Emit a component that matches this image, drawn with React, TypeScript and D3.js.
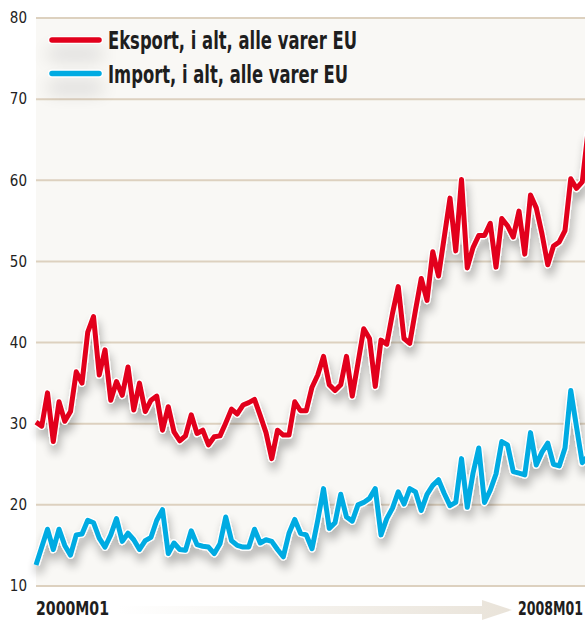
import * as React from 'react';
import * as d3 from 'd3';

// månedlige værdier 2000M01 .. 2008M01
const exportValues = [
  30.2, 29.7, 33.8, 27.8, 32.7, 30.3, 31.5, 36.4, 35.0, 41.3, 43.2, 36.0,
  39.1, 32.9, 35.2, 33.5, 37.0, 31.7, 35.0, 31.5, 32.9, 33.4, 29.2, 32.1,
  29.0, 27.9, 28.5, 31.1, 28.8, 29.2, 27.4, 28.4, 28.5, 30.1, 31.8, 31.2,
  32.3, 32.6, 33.0, 31.0, 28.9, 25.7, 29.2, 28.6, 28.6, 32.7, 31.6, 31.6,
  34.5, 36.0, 38.3, 34.8, 34.1, 34.8, 38.3, 33.4, 37.5, 41.7, 40.5, 34.6,
  40.3, 39.8, 43.6, 46.9, 40.5, 39.9, 44.0, 47.9, 45.2, 51.2, 48.2, 53.0,
  57.8, 51.3, 60.1, 49.2, 51.7, 53.2, 53.2, 54.7, 49.3, 55.3, 54.4, 53.0,
  56.2, 50.9, 58.2, 56.6, 53.4, 49.6, 51.9, 52.4, 53.8, 60.2, 59.0, 59.8,
  66.0
];
const importValues = [
  12.6, 14.8, 17.0, 14.5, 17.0, 15.0, 13.8, 16.3, 16.4, 18.1, 17.8, 15.9,
  14.8, 16.3, 18.3, 15.5, 16.5, 15.7, 14.5, 15.6, 16.0, 18.1, 19.4, 14.0,
  15.3, 14.5, 14.4, 16.8, 15.1, 14.9, 14.8, 14.0, 15.2, 18.5, 15.6, 15.0,
  14.8, 14.8, 17.0, 15.3, 15.7, 15.5, 14.5, 13.6, 16.5, 18.2, 16.5, 16.3,
  14.6, 18.1, 22.0, 17.1, 17.8, 21.3, 18.5, 18.0, 20.0, 20.3, 20.8, 22.0,
  16.3, 18.3, 19.6, 21.6, 20.1, 22.0, 21.6, 19.3, 21.3, 22.4, 23.1, 21.4,
  19.9, 20.3, 25.7, 19.7, 23.9, 27.0, 20.3, 21.8, 23.8, 27.8, 27.4, 24.1,
  23.9, 23.7, 28.9, 24.9, 26.5, 27.6, 25.0, 24.8, 27.0, 34.1, 29.6, 25.2,
  26.0
];
const yTicks = [10, 20, 30, 40, 50, 60, 70, 80];
const xLabels = ['2000M01', '2008M01'];
const seriesNames = ['Eksport, i alt, alle varer EU', 'Import, i alt, alle varer EU'];
const seriesColors = ['#e2001a', '#00abe2'];

const FONT = "'Liberation Sans Narrow', 'DejaVu Sans Condensed', 'Arial Narrow', sans-serif";

const App = () => {
  const W = 585;
  const H = 620;

  const x = d3.scaleLinear().domain([0, exportValues.length - 1]).range([36, 588]);
  const y = d3.scaleLinear().domain([10, 80]).range([586, 18]);

  const line = d3
    .line<number>()
    .x((d, i) => x(i))
    .y(d => y(d))
    .curve(d3.curveLinear);

  const series = [exportValues, importValues];
  const legendY = (i: number) => 40 + i * 33.5;

  return (
    <svg
      width={W}
      height={H}
      style={{ position: 'absolute', left: 0, top: 0, background: '#fff' }}
    >
      <defs>
        <filter id="shadow" filterUnits="userSpaceOnUse" x={0} y={0} width={W} height={H}>
          <feGaussianBlur in="SourceAlpha" stdDeviation="5" />
          <feOffset dx="2" dy="8" result="b" />
          <feComponentTransfer>
            <feFuncA type="linear" slope="0.3" />
          </feComponentTransfer>
          <feMerge>
            <feMergeNode />
            <feMergeNode in="SourceGraphic" />
          </feMerge>
        </filter>
        <filter id="legendShadow" filterUnits="userSpaceOnUse" x={0} y={0} width={200} height={140}>
          <feGaussianBlur in="SourceAlpha" stdDeviation="9" />
          <feOffset dx="0" dy="14" />
          <feComponentTransfer>
            <feFuncA type="linear" slope="0.2" />
          </feComponentTransfer>
          <feMerge>
            <feMergeNode />
            <feMergeNode in="SourceGraphic" />
          </feMerge>
        </filter>
        <linearGradient id="arrowGrad" x1="0" x2="1" y1="0" y2="0">
          <stop offset="0" stopColor="#ffffff" />
          <stop offset="1" stopColor="#e9e3d9" />
        </linearGradient>
      </defs>

      {/* plot background */}
      <rect x={x(0)} y={y(80)} width={W - x(0)} height={y(10) - y(80)} fill="#f9f8f5" />

      {/* grid + y labels */}
      {yTicks.map(t => (
        <g key={t}>
          <line x1={x(0)} x2={W} y1={y(t)} y2={y(t)} stroke="#ddd1bf" strokeWidth={2} />
          <text
            x={27}
            y={y(t)}
            dy="0.35em"
            textAnchor="end"
            fontFamily={FONT}
            fontSize={15}
            fill="#222"
          >
            {t}
          </text>
        </g>
      ))}

      {/* lines */}
      {series.map((s, i) => (
        <g key={i} filter="url(#shadow)">
          <path d={line(s) || ''} fill="none" stroke="#fff" strokeWidth={7.5} strokeLinejoin="round" />
          <path d={line(s) || ''} fill="none" stroke={seriesColors[i]} strokeWidth={5} strokeLinejoin="round" />
        </g>
      ))}

      {/* legend */}
      {seriesNames.map((name, i) => (
        <g key={name}>
          <g filter="url(#legendShadow)">
            <line
              x1={52}
              x2={99}
              y1={legendY(i)}
              y2={legendY(i)}
              stroke="#fff"
              strokeWidth={8}
              strokeLinecap="round"
            />
            <line
              x1={52}
              x2={99}
              y1={legendY(i)}
              y2={legendY(i)}
              stroke={seriesColors[i]}
              strokeWidth={5.5}
              strokeLinecap="round"
            />
          </g>
          <text
            x={108}
            y={legendY(i) + 9}
            fontFamily={FONT}
            fontWeight="bold"
            fontSize={24}
            fill="#1e1e1e"
            textLength={i === 0 ? 249 : 240}
            lengthAdjust="spacingAndGlyphs"
          >
            {name}
          </text>
        </g>
      ))}

      {/* x axis arrow band */}
      <path
        d="M118,606 L482,606 L482,600 L512,610 L482,620 L482,614 L118,614 Z"
        fill="url(#arrowGrad)"
      />

      {/* x labels */}
      <text
        x={x(0)}
        y={615}
        fontFamily={FONT}
        fontWeight="bold"
        fontSize={20}
        fill="#1e1e1e"
        textLength={73}
        lengthAdjust="spacingAndGlyphs"
      >
        {xLabels[0]}
      </text>
      <g transform="translate(583,615) scale(0.7,1)">
        <text
          x={0}
          y={0}
          textAnchor="end"
          fontFamily={FONT}
          fontWeight="bold"
          fontSize={20}
          fill="#1e1e1e"
        >
          {xLabels[1]}
        </text>
      </g>
    </svg>
  );
};

export default App;
